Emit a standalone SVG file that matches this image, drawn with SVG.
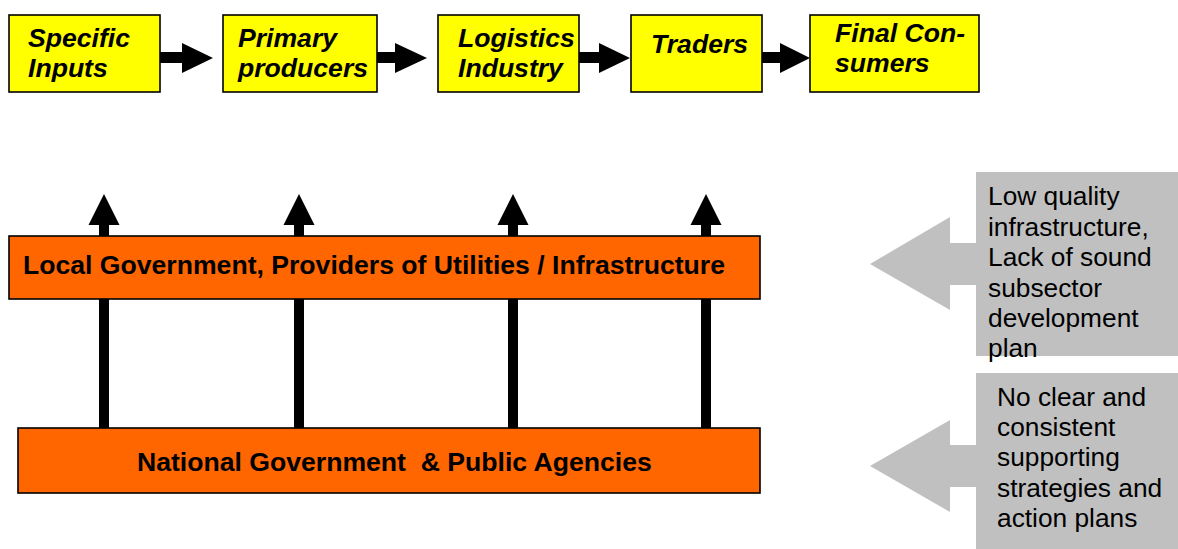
<svg xmlns="http://www.w3.org/2000/svg" width="1178" height="549" viewBox="0 0 1178 549">
<style>
.ybox{fill:#FFFF00;stroke:#000;stroke-width:1.6}
.obox{fill:#FF6600;stroke:#000;stroke-width:1.6}
.ttl{font-family:"Liberation Sans",Arial,sans-serif;font-size:26.6px;font-weight:bold;font-style:italic;fill:#000}
.btl{font-family:"Liberation Sans",Arial,sans-serif;font-size:26.6px;font-weight:bold;fill:#000;white-space:pre}
.gtx{font-family:"Liberation Sans",Arial,sans-serif;font-size:26.3px;fill:#000}
.arr{fill:#000}
.gray{fill:#C0C0C0}
</style>
<rect width="1178" height="549" fill="#fff"/>
<g id="connectors">
<path class="arr" d="M160,52 H182 V43 L213,58 L182,73 V63 H160 Z"/>
<path class="arr" d="M377,52 H395 V43 L427,58 L395,73 V63 H377 Z"/>
<path class="arr" d="M579,52 H599 V43 L630,58 L599,73 V63 H579 Z"/>
<path class="arr" d="M762,52 H780 V43 L810,58 L780,73 V63 H762 Z"/>
<path class="arr" d="M99,428 V225 H88.5 L104,194 L119.5,225 H109 V428 Z"/>
<path class="arr" d="M294,428 V225 H283.5 L299,194 L314.5,225 H304 V428 Z"/>
<path class="arr" d="M508,428 V225 H497.5 L513,194 L528.5,225 H518 V428 Z"/>
<path class="arr" d="M701,428 V225 H690.5 L706,194 L721.5,225 H711 V428 Z"/>
</g>
<g id="specific-inputs">
<rect class="ybox" x="9" y="15" width="151" height="77"/>
<text class="ttl" x="28" y="47">Specific</text>
<text class="ttl" x="28" y="77">Inputs</text>
</g>
<g id="primary-producers">
<rect class="ybox" x="223" y="15" width="154" height="77"/>
<text class="ttl" x="238" y="47">Primary</text>
<text class="ttl" x="238" y="77">producers</text>
</g>
<g id="logistics-industry">
<rect class="ybox" x="438" y="15" width="141" height="77"/>
<text class="ttl" x="458" y="47">Logistics</text>
<text class="ttl" x="458" y="77">Industry</text>
</g>
<g id="traders">
<rect class="ybox" x="631" y="15" width="131" height="77"/>
<text class="ttl" x="651" y="53">Traders</text>
</g>
<g id="final-consumers">
<rect class="ybox" x="810" y="15" width="169" height="77"/>
<text class="ttl" x="835" y="42">Final Con-</text>
<text class="ttl" x="835" y="72">sumers</text>
</g>
<g id="local-government">
<rect class="obox" x="9" y="236" width="751" height="63"/>
<text class="btl" x="23" y="274">Local Government, Providers of Utilities / Infrastructure</text>
</g>
<g id="national-government">
<rect class="obox" x="18" y="428" width="742" height="65"/>
<text class="btl" x="137" y="471">National Government  &amp; Public Agencies</text>
</g>
<g id="callout-infrastructure">
<path class="gray" d="M1178,172 H976 V243 H950 V217 L870,264 L950,310 V285 H976 V356 H1178 Z"/>
<text class="gtx" x="988" y="205">Low quality</text>
<text class="gtx" x="988" y="236">infrastructure,</text>
<text class="gtx" x="988" y="266">Lack of sound</text>
<text class="gtx" x="988" y="297">subsector</text>
<text class="gtx" x="988" y="327">development</text>
<text class="gtx" x="988" y="357">plan</text>
</g>
<g id="callout-strategies">
<path class="gray" d="M1178,373 H976 V445 H950 V420 L870,466 L950,512 V487 H976 V549 H1178 Z"/>
<text class="gtx" x="997" y="406">No clear and</text>
<text class="gtx" x="997" y="436">consistent</text>
<text class="gtx" x="997" y="466">supporting</text>
<text class="gtx" x="997" y="497">strategies and</text>
<text class="gtx" x="997" y="527">action plans</text>
</g>
</svg>
